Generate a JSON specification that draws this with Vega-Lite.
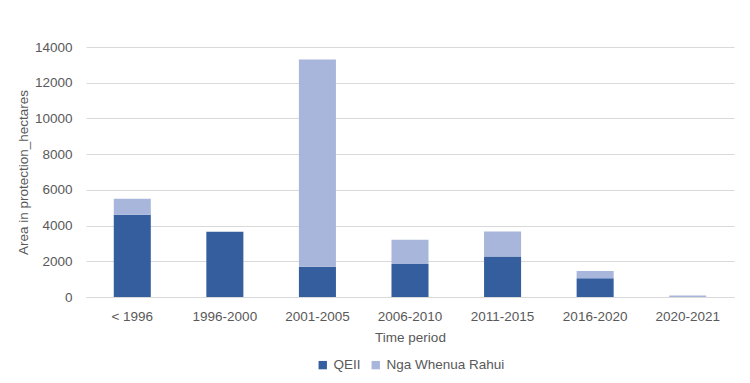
{
  "$schema": "https://vega.github.io/schema/vega-lite/v6.json",
  "autosize": "none",
  "width": 648,
  "height": 250,
  "padding": {"left": 86, "top": 47, "right": 16, "bottom": 86},
  "background": "white",
  "config": {
    "view": {"stroke": null},
    "font": "Liberation Sans",
    "axis": {"labelColor": "#595959", "titleColor": "#595959", "labelFont": "Liberation Sans", "titleFont": "Liberation Sans", "labelFontSize": 13.5, "titleFontSize": 13.5, "titleFontWeight": "normal"},
    "legend": {"labelColor": "#595959", "labelFontSize": 13.5, "labelFont": "Liberation Sans"}
  },
  "data": {
    "values": [
      {"period": "< 1996", "type": "QEII", "area": 4600},
      {"period": "< 1996", "type": "Nga Whenua Rahui", "area": 900},
      {"period": "1996-2000", "type": "QEII", "area": 3650},
      {"period": "1996-2000", "type": "Nga Whenua Rahui", "area": 0},
      {"period": "2001-2005", "type": "QEII", "area": 1700},
      {"period": "2001-2005", "type": "Nga Whenua Rahui", "area": 11600},
      {"period": "2006-2010", "type": "QEII", "area": 1850},
      {"period": "2006-2010", "type": "Nga Whenua Rahui", "area": 1350},
      {"period": "2011-2015", "type": "QEII", "area": 2270},
      {"period": "2011-2015", "type": "Nga Whenua Rahui", "area": 1400},
      {"period": "2016-2020", "type": "QEII", "area": 1050},
      {"period": "2016-2020", "type": "Nga Whenua Rahui", "area": 410},
      {"period": "2020-2021", "type": "QEII", "area": 0},
      {"period": "2020-2021", "type": "Nga Whenua Rahui", "area": 80}
    ]
  },
  "mark": {"type": "bar"},
  "encoding": {
    "x": {
      "field": "period", "type": "nominal", "sort": null,
      "scale": {"paddingInner": 0.6, "paddingOuter": 0.3},
      "axis": {"title": "Time period", "labelAngle": 0, "ticks": false, "domainColor": "#d9d9d9", "labelPadding": 12, "titlePadding": 8}
    },
    "y": {
      "field": "area", "type": "quantitative", "stack": "zero",
      "scale": {"domain": [0, 14000]},
      "axis": {"title": "Area in  protection_hectares", "values": [0, 2000, 4000, 6000, 8000, 10000, 12000, 14000], "format": "d", "ticks": false, "domain": false, "gridColor": "#d9d9d9", "labelPadding": 14, "titlePadding": 4}
    },
    "color": {
      "field": "type", "type": "nominal",
      "scale": {"domain": ["QEII", "Nga Whenua Rahui"], "range": ["#355e9f", "#a7b6da"]},
      "legend": {"title": null, "orient": "none", "legendX": 230, "legendY": 311, "direction": "horizontal", "symbolType": "square", "symbolSize": 70, "columnPadding": 8, "labelOffset": 4}
    },
    "order": {"field": "type", "sort": "descending"}
  }
}
